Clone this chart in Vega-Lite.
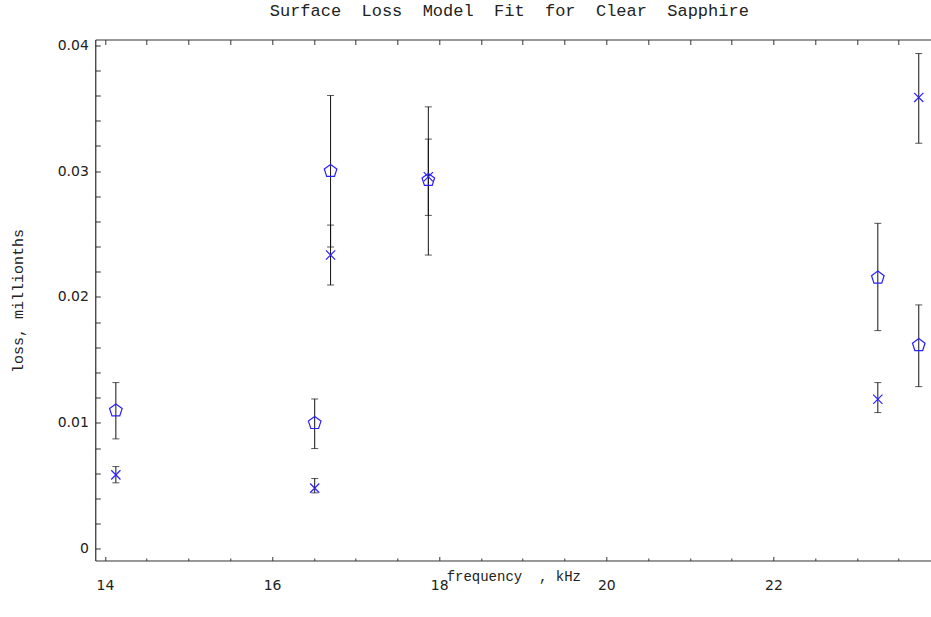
{
  "$schema": "https://vega.github.io/schema/vega-lite/v6.json",
  "autosize": "none",
  "width": 836,
  "height": 521,
  "padding": {"left": 95.3, "top": 39.5, "right": 0, "bottom": 56.5},
  "background": "white",
  "config": {
    "view": {"stroke": null},
    "axis": {"grid": false, "domainColor": "#333", "tickColor": "#333", "labelColor": "#222", "titleColor": "#222", "labelFont": "DejaVu Sans", "labelFontSize": 14, "titleFont": "Liberation Mono", "titleFontSize": 15, "titleFontWeight": "normal"}
  },
  "title": {"text": "Surface\u00a0\u00a0Loss\u00a0\u00a0Model\u00a0\u00a0Fit\u00a0\u00a0for\u00a0\u00a0Clear\u00a0\u00a0Sapphire", "font": "Liberation Mono", "fontSize": 17, "fontWeight": "normal", "color": "#222", "anchor": "middle", "offset": 18, "dx": -4},
  "datasets": {
    "pts": [
      {"f": 14.13, "series": "pentagon", "v": 0.01098, "lo": 0.00873, "hi": 0.0132},
      {"f": 16.51, "series": "pentagon", "v": 0.00998, "lo": 0.00796, "hi": 0.0119},
      {"f": 16.70, "series": "pentagon", "v": 0.0300, "lo": 0.02397, "hi": 0.0360},
      {"f": 17.87, "series": "pentagon", "v": 0.02929, "lo": 0.02333, "hi": 0.0351},
      {"f": 23.25, "series": "pentagon", "v": 0.02153, "lo": 0.01733, "hi": 0.02585},
      {"f": 23.74, "series": "pentagon", "v": 0.01617, "lo": 0.01288, "hi": 0.01937},
      {"f": 14.13, "series": "cross", "v": 0.00587, "lo": 0.00524, "hi": 0.00653},
      {"f": 16.51, "series": "cross", "v": 0.00482, "lo": 0.00444, "hi": 0.00558},
      {"f": 16.70, "series": "cross", "v": 0.02333, "lo": 0.02095, "hi": 0.02571},
      {"f": 17.87, "series": "cross", "v": 0.02955, "lo": 0.02648, "hi": 0.03254},
      {"f": 23.25, "series": "cross", "v": 0.01188, "lo": 0.01082, "hi": 0.0132},
      {"f": 23.74, "series": "cross", "v": 0.03585, "lo": 0.03221, "hi": 0.03934}
    ]
  },
  "data": {"name": "pts"},
  "resolve": {"axis": {"x": "independent", "y": "independent"}},
  "layer": [
    {
      "mark": {"type": "rule", "color": "#111", "strokeWidth": 1},
      "encoding": {
        "x": {"field": "f", "type": "quantitative", "scale": {"domain": [13.884, 23.89], "nice": false, "zero": false},
          "axis": {"orient": "bottom", "title": "frequency\u00a0\u00a0,\u00a0kHz", "titleFontSize": 14, "values": [14, 14.5, 15, 15.5, 16, 16.5, 17, 17.5, 18, 18.5, 19, 19.5, 20, 20.5, 21, 21.5, 22, 22.5, 23, 23.5],
            "labelExpr": "datum.value % 2 === 0 ? format(datum.value, 'd') : ''",
            "tickSize": {"condition": {"test": "datum.value % 2 === 0", "value": -4}, "value": -2.5},
            "labelPadding": 22, "labelFlush": false, "labelOverlap": false,
            "titleX": 418, "titleY": 16.5, "titleAlign": "center", "titleBaseline": "middle", "titleAnchor": null}},
        "y": {"field": "lo", "type": "quantitative", "scale": {"domain": [-0.00093, 0.04045], "nice": false, "zero": false},
          "axis": {"orient": "left", "title": "loss,\u00a0millionths", "values": [0, 0.002, 0.004, 0.006, 0.008, 0.01, 0.012, 0.014, 0.016, 0.018, 0.02, 0.022, 0.024, 0.026, 0.028, 0.03, 0.032, 0.034, 0.036, 0.038, 0.04],
            "labelExpr": "abs(datum.value*100 - round(datum.value*100)) < 1e-6 ? (datum.value === 0 ? '0' : format(datum.value, '.2f')) : ''",
            "tickSize": -5, "labelPadding": 12, "labelFlush": false, "labelOverlap": false, "domainColor": "#000",
            "titleX": -78, "titleY": 261, "titleAngle": -90, "titleAlign": "center", "titleBaseline": "middle", "titleAnchor": null}},
        "y2": {"field": "hi"}
      }
    },
    {
      "mark": {"type": "tick", "orient": "horizontal", "color": "#111", "size": 7, "thickness": 1},
      "encoding": {
        "x": {"field": "f", "type": "quantitative", "axis": null},
        "y": {"field": "lo", "type": "quantitative", "axis": null}
      }
    },
    {
      "mark": {"type": "tick", "orient": "horizontal", "color": "#111", "size": 7, "thickness": 1},
      "encoding": {
        "x": {"field": "f", "type": "quantitative", "axis": null},
        "y": {"field": "hi", "type": "quantitative", "axis": null}
      }
    },
    {
      "transform": [{"filter": "datum.series === 'pentagon'"}],
      "mark": {"type": "point", "shape": "M0,-1L0.951,-0.309L0.588,0.809L-0.588,0.809L-0.951,-0.309Z", "filled": false, "color": "#2a1fff", "strokeWidth": 1.2, "size": 175, "opacity": 1},
      "encoding": {
        "x": {"field": "f", "type": "quantitative",
          "axis": {"orient": "top", "title": null, "labels": false, "values": [14, 14.5, 15, 15.5, 16, 16.5, 17, 17.5, 18, 18.5, 19, 19.5, 20, 20.5, 21, 21.5, 22, 22.5, 23, 23.5], "tickSize": -5}},
        "y": {"field": "v", "type": "quantitative", "axis": null}
      }
    },
    {
      "transform": [{"filter": "datum.series === 'cross'"}],
      "mark": {"type": "point", "shape": "M-1,-1L1,1M1,-1L-1,1", "filled": false, "color": "#2a1fff", "strokeWidth": 1.2, "size": 85, "opacity": 1},
      "encoding": {
        "x": {"field": "f", "type": "quantitative", "axis": null},
        "y": {"field": "v", "type": "quantitative", "axis": null}
      }
    }
  ]
}
